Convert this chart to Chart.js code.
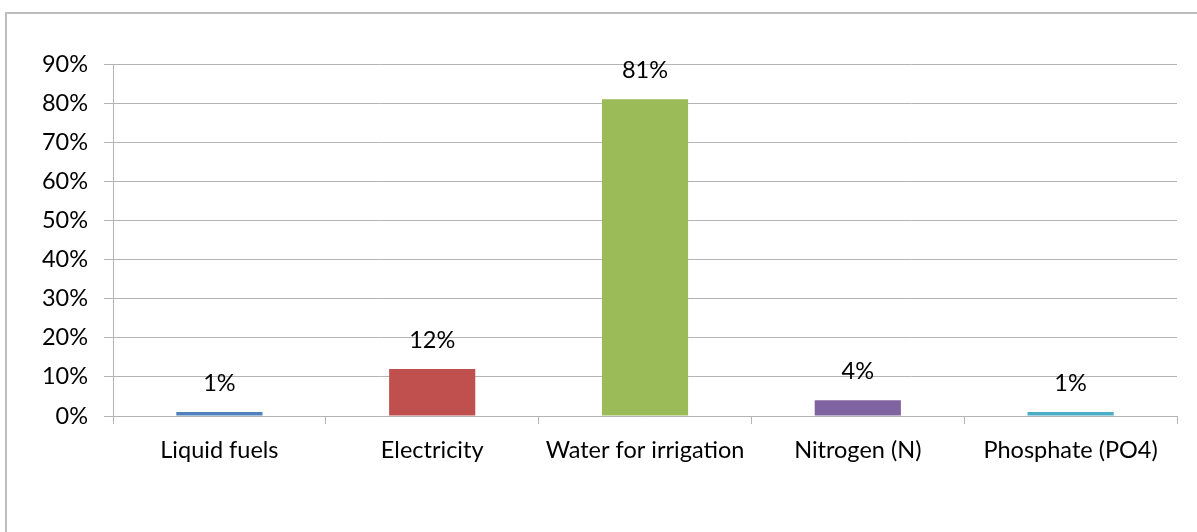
<!DOCTYPE html>
<html>
<head>
<meta charset="utf-8">
<script src="https://cdn.jsdelivr.net/npm/chart.js@4/dist/chart.umd.min.js"></script>
<style>
  html, body { margin: 0; padding: 0; background: #fff; }
  #wrap { width: 1197px; height: 532px; position: relative; }
</style>
</head>
<body>
<div id="wrap"><canvas id="chart" width="1197" height="532"></canvas></div>
<script>
// Share of each input, in percent
const categories = ['Liquid fuels', 'Electricity', 'Water for irrigation', 'Nitrogen (N)', 'Phosphate (PO4)'];
const shares = [1, 12, 81, 4, 1];
const barColors = ['#4F81BD', '#C0504D', '#9BBB59', '#8064A2', '#4BACC6'];
const yTicks = [0, 10, 20, 30, 40, 50, 60, 70, 80, 90];

const FONT = 'Lato, "Open Sans", sans-serif';
const FONT_SIZE = 23.5;
const GRID = '#b4b4b4';

// Frame line along the top and left edges of the chart box
const framePlugin = {
  id: 'frame',
  beforeDraw(chart) {
    const ctx = chart.ctx;
    ctx.save();
    ctx.strokeStyle = '#bdbdbd';
    ctx.lineWidth = 2;
    ctx.beginPath();
    ctx.moveTo(6, chart.height);
    ctx.lineTo(6, 13);
    ctx.lineTo(chart.width, 13);
    ctx.stroke();
    ctx.restore();
  }
};

// Percentage labels above each bar
const valueLabels = {
  id: 'valueLabels',
  afterDatasetsDraw(chart) {
    const ctx = chart.ctx;
    const meta = chart.getDatasetMeta(0);
    const data = chart.data.datasets[0].data;
    ctx.save();
    ctx.font = FONT_SIZE + 'px ' + FONT;
    ctx.fillStyle = '#000';
    ctx.textAlign = 'center';
    ctx.textBaseline = 'alphabetic';
    meta.data.forEach((bar, i) => {
      ctx.fillText(Math.round(data[i]) + '%', bar.x, bar.y - 21);
    });
    ctx.restore();
  }
};

new Chart(document.getElementById('chart'), {
  type: 'bar',
  data: {
    labels: categories,
    datasets: [{
      data: shares,
      backgroundColor: barColors,
      borderWidth: 0,
      categoryPercentage: 1,
      barPercentage: 0.405
    }]
  },
  options: {
    responsive: false,
    animation: false,
    devicePixelRatio: 1,
    layout: { padding: { left: 0, top: 64, right: 20, bottom: 0 } },
    plugins: {
      legend: { display: false },
      tooltip: { enabled: false }
    },
    scales: {
      x: {
        grid: {
          offset: true,
          drawOnChartArea: false,
          drawTicks: true,
          tickLength: 8,
          color: GRID,
          lineWidth: 1
        },
        border: { display: true, color: GRID },
        ticks: {
          color: '#000',
          font: { family: FONT, size: FONT_SIZE },
          padding: 12,
          maxRotation: 0,
          autoSkip: false
        },
        afterFit(scale) { scale.height = 116; }
      },
      y: {
        min: 0,
        max: 90,
        afterBuildTicks(scale) { scale.ticks = yTicks.map(v => ({ value: v })); },
        grid: {
          color: GRID,
          lineWidth: 1,
          drawTicks: true,
          tickLength: 9
        },
        border: { display: true, color: GRID },
        ticks: {
          color: '#000',
          font: { family: FONT, size: FONT_SIZE },
          padding: 16,
          callback: v => v + '%'
        },
        afterFit(scale) { scale.width = 113; }
      }
    }
  },
  plugins: [framePlugin, valueLabels]
});
</script>
</body>
</html>
